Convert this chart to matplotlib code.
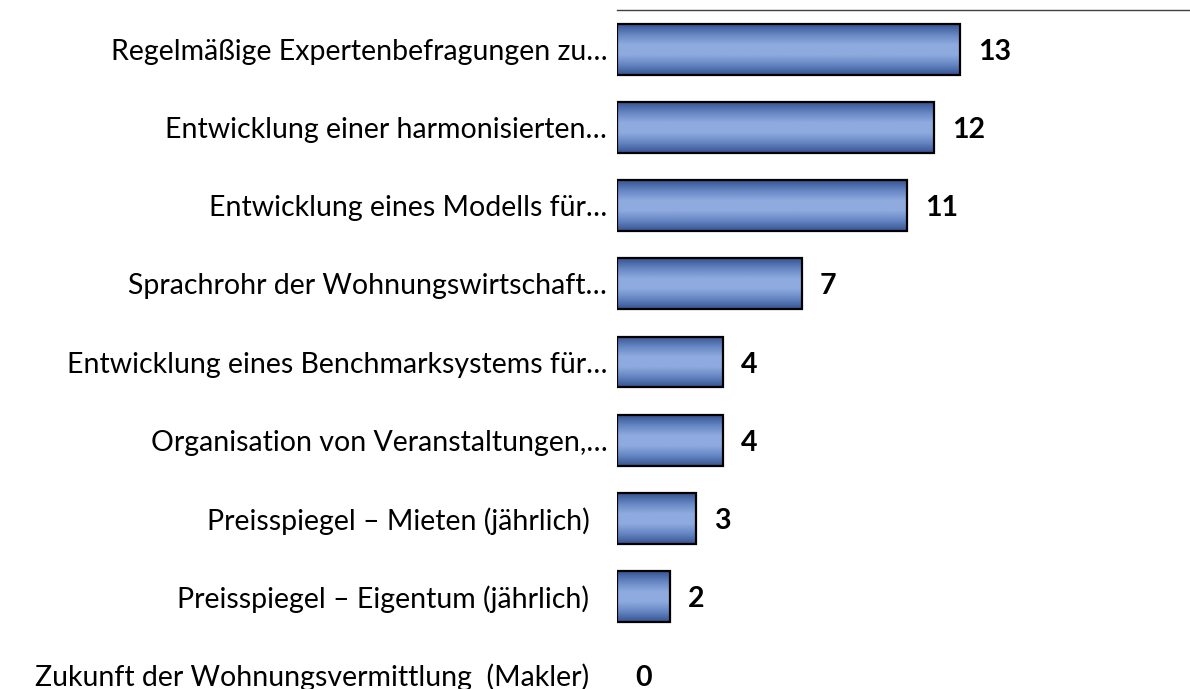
import matplotlib
matplotlib.use("Agg")
import matplotlib.pyplot as plt
import numpy as np
from matplotlib.colors import LinearSegmentedColormap

categories = [
    "Regelmäßige Expertenbefragungen zu…",
    "Entwicklung einer harmonisierten…",
    "Entwicklung eines Modells für…",
    "Sprachrohr der Wohnungswirtschaft…",
    "Entwicklung eines Benchmarksystems für…",
    "Organisation von Veranstaltungen,…",
    "Preisspiegel – Mieten (jährlich)",
    "Preisspiegel – Eigentum (jährlich)",
    "Zukunft der Wohnungsvermittlung  (Makler)",
]
values = [13, 12, 11, 7, 4, 4, 3, 2, 0]

plt.rcParams['font.family'] = ['Lato', 'DejaVu Sans']

W, H = 1190, 689
fig = plt.figure(figsize=(W / 100, H / 100), dpi=100)
ax = fig.add_axes([617 / W, 0, (W - 617) / W, (H - 10) / H])

y = np.arange(len(categories))
bars = ax.barh(y, values, height=0.65, color='none', edgecolor='black',
               linewidth=1.6, zorder=3)

cmap = LinearSegmentedColormap.from_list(
    'g', ['#34528f', '#6585c2', '#8eaadf', '#8eaadf', '#6585c2', '#34528f'])
grad = np.linspace(0, 1, 256).reshape(-1, 1)
for b in bars:
    if b.get_width() <= 0:
        b.set_visible(False)
        continue
    x0, y0 = b.get_x(), b.get_y()
    w, h = b.get_width(), b.get_height()
    im = ax.imshow(grad, cmap=cmap, aspect='auto',
                   extent=[x0, x0 + w, y0 + h, y0], zorder=2,
                   interpolation='bilinear')
    im.set_clip_path(b)

for yi, v in zip(y, values):
    ax.annotate(str(v), xy=(v, yi), xytext=(18, 0), textcoords='offset pixels',
                ha='left', va='center_baseline', fontsize=20.5, fontweight='bold')

ax.set_xlim(0, (W - 617) / 26.4)
ax.set_ylim(8 + 14 / 78.3, -0.5)
ax.set_yticks(y)
labels = [c if c.endswith('…') else c + '\u2002\u2009' for c in categories]
ax.set_yticklabels(labels, fontsize=20.5, va='center_baseline')
ax.tick_params(axis='y', length=0, pad=7)
ax.set_xticks([])
for s in ['left', 'right', 'bottom']:
    ax.spines[s].set_visible(False)
ax.spines['top'].set_color('#404040')
ax.spines['top'].set_linewidth(1.0)

fig.savefig('out.png', dpi=100)
